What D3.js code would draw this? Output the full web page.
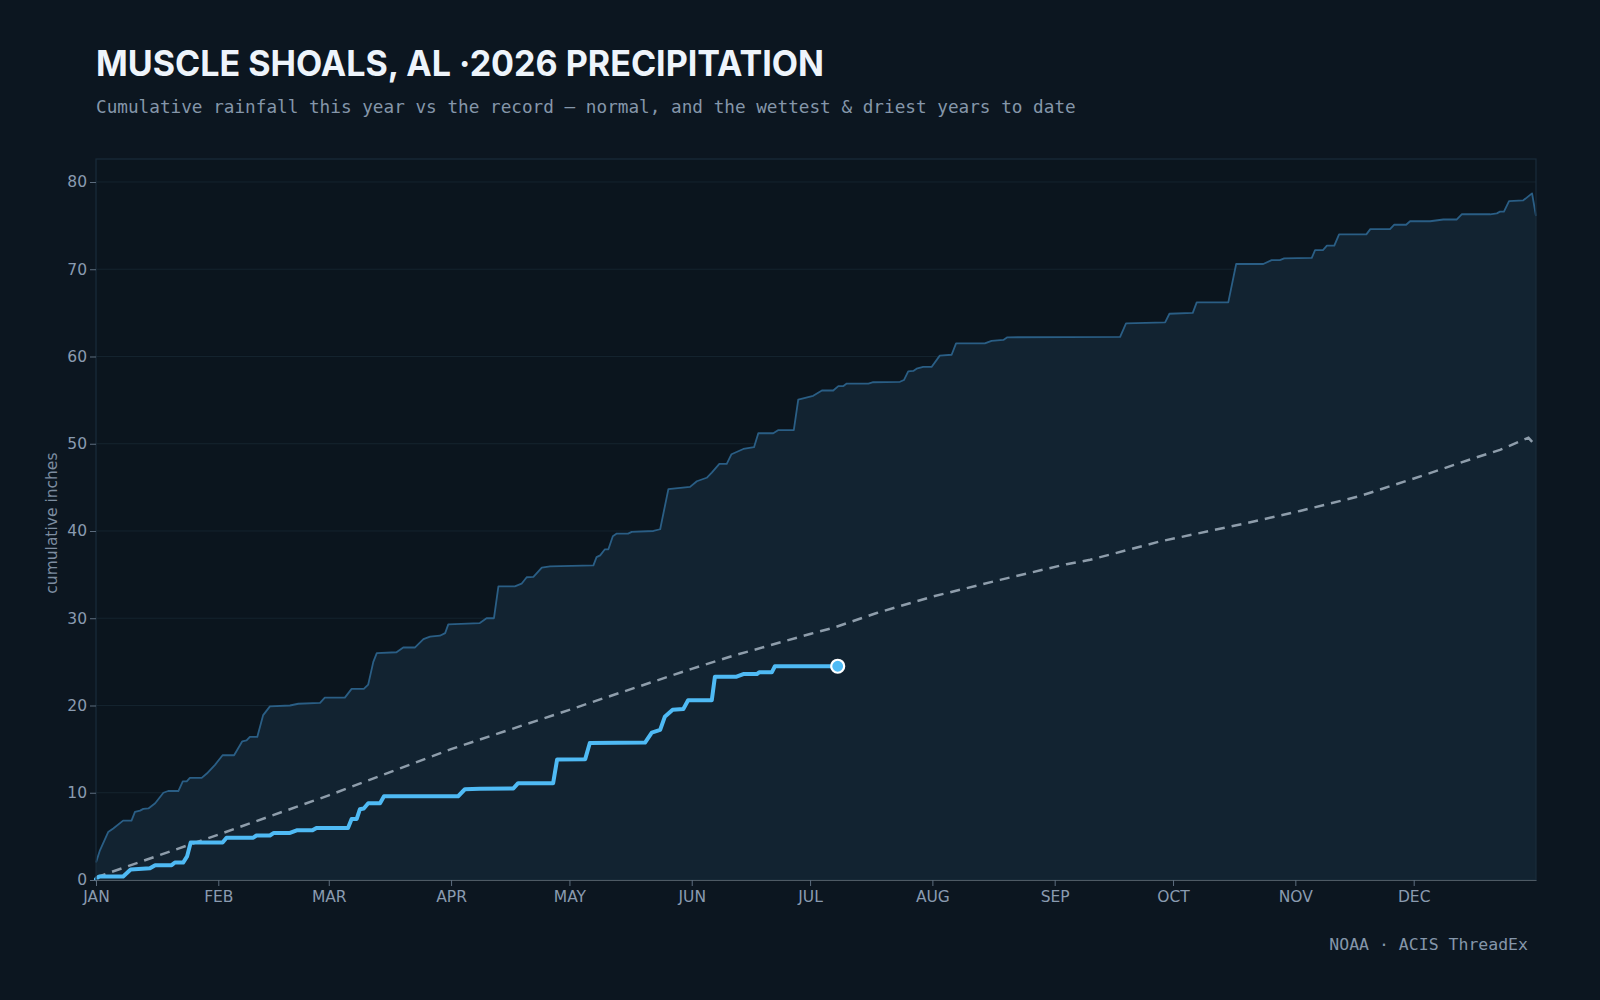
<!DOCTYPE html>
<html lang="en">
<head>
  <meta charset="utf-8" />
  <script src="https://d3js.org/d3.v7.min.js"></script>
  <style>
    body {
      margin: 0;
      background: #0c1620;
    }
  </style>
</head>
<body>
  <script>
    // day of year (0 = Jan 1) and cumulative inches
    var recordDays = [0, 1, 3.1, 4.4, 6.9, 9, 9.9, 11.2, 12, 13.3, 15, 17.1, 18.3, 20.9, 22, 23, 23.8, 26.8, 28.1, 30.2,
      32.1, 35, 37.1, 38.2, 39, 40.9, 42.4, 44.1, 49.2, 51.3, 56.8, 58, 63.1, 64.8, 67.9, 69, 70.3, 71.2, 76.2, 77.9,
      80.9, 83, 84.7, 87.2, 88.5, 89.3, 97.3, 99, 100.9, 102, 106.2, 107.9, 109.2, 110.9, 113, 115.1, 126.1, 126.9, 127.8, 129,
      129.9, 131, 132, 134.9, 135.8, 141.3, 143, 145.1, 150.6, 152.3, 154.8, 156.1, 158, 159.9, 161.1, 164.1, 166.8, 167.9, 171.7, 172.9,
      176.9, 178, 181.8, 184, 186.9, 188.2, 189.4, 190.3, 195.8, 197, 203.8, 204.8, 205.9, 207.2, 208, 209.7, 211.8, 213.9, 216.9, 218,
      225.3, 227, 230, 231, 259.6, 261.1, 271, 272.1, 278, 279, 287, 289, 295.9, 298, 300.1, 301.2, 308.2, 309, 311, 312,
      313.9, 315.1, 322, 323, 328, 329.1, 332.1, 333.1, 338.2, 341.5, 344.9, 346.2, 353.4, 355.1, 355.9, 356.9, 358.2, 361.8, 364, 365];
    var recordInches = [2.0, 3.4, 5.5, 5.9, 6.8, 6.8, 7.8, 7.95, 8.15, 8.2, 8.8, 10.0, 10.2, 10.2, 11.3, 11.3, 11.7, 11.7, 12.2, 13.2,
      14.3, 14.3, 15.9, 16.0, 16.4, 16.4, 18.9, 19.9, 20.0, 20.2, 20.3, 20.9, 20.9, 21.9, 21.9, 22.4, 25.0, 26.0, 26.1, 26.65,
      26.65, 27.6, 27.9, 28.0, 28.3, 29.3, 29.45, 30.0, 30.0, 33.65, 33.65, 33.96, 34.7, 34.75, 35.8, 35.95, 36.06, 37.0, 37.2, 37.9,
      37.9, 39.4, 39.7, 39.7, 39.9, 40.0, 40.2, 44.8, 45.05, 45.7, 46.1, 46.7, 47.7, 47.7, 48.8, 49.4, 49.6, 51.2, 51.2, 51.55,
      51.55, 55.07, 55.5, 56.1, 56.1, 56.6, 56.6, 56.9, 56.9, 57.05, 57.1, 57.3, 58.3, 58.35, 58.6, 58.8, 58.8, 60.1, 60.2, 61.5,
      61.5, 61.8, 61.9, 62.2, 62.25, 63.8, 63.9, 64.9, 65.0, 66.2, 66.2, 70.6, 70.6, 71.05, 71.05, 71.25, 71.3, 72.2, 72.2, 72.7,
      72.7, 74.0, 74.0, 74.6, 74.6, 75.1, 75.1, 75.5, 75.5, 75.7, 75.7, 76.3, 76.3, 76.4, 76.6, 76.6, 77.8, 77.9, 78.7, 76.1];

    var normalDays = [0, 31, 59, 90, 120, 127.8, 151, 161.5, 181, 186.9, 197.9, 212.2, 229.2, 246, 252, 269.7, 291.7, 305.2,
      320.4, 337.3, 348.3, 355.9, 363.1, 365];
    var normalInches = [0.3, 5.2, 9.7, 15.0, 19.5, 20.7, 24.2, 25.7, 28.2, 28.9, 30.6, 32.5, 34.4, 36.2, 36.7, 38.8, 40.9, 42.3,
      44.0, 46.5, 48.2, 49.3, 50.7, 49.7];

    var currentDays = [0, 0.8, 6.9, 8.8, 13.7, 15, 19.2, 20, 22.1, 23.1, 24, 32.1, 33.1, 39.9, 40.7, 44.1, 45.1, 49.2, 50.9, 54.9,
      55.9, 63.9, 64.8, 66.1, 66.9, 67.9, 69, 72, 73, 91.8, 93.5, 97.3, 105.8, 107, 115.9, 116.9, 124, 125.2, 139.2, 140.9,
      143, 144.2, 146.2, 148.9, 150.1, 156.1, 156.9, 162.4, 164.1, 167.5, 168.1, 171.3, 172.1, 188];
    var currentInches = [0.1, 0.4, 0.4, 1.2, 1.34, 1.7, 1.7, 2.0, 2.0, 2.7, 4.3, 4.3, 4.85, 4.85, 5.1, 5.1, 5.4, 5.4, 5.7, 5.7,
      5.97, 5.97, 7.0, 7.0, 8.1, 8.2, 8.8, 8.8, 9.6, 9.6, 10.4, 10.45, 10.5, 11.1, 11.1, 13.8, 13.85, 15.7, 15.75, 16.9,
      17.2, 18.7, 19.5, 19.6, 20.6, 20.6, 23.3, 23.3, 23.6, 23.6, 23.8, 23.8, 24.5, 24.5];

    var yTicks = [0, 10, 20, 30, 40, 50, 60, 70, 80];

    var width = 1600,
      height = 1000;
    var margin = { top: 159, right: 64, bottom: 120, left: 96 };
    var innerW = width - margin.left - margin.right,
      innerH = height - margin.top - margin.bottom;

    var yearStart = new Date(2026, 0, 1);
    var yearEnd = new Date(2027, 0, 1);
    function toDate(d) { return d3.timeHour.offset(yearStart, d * 24); }

    var svg = d3.select("body")
      .append("svg")
      .attr("width", width)
      .attr("height", height);

    svg.append("rect")
      .attr("width", width)
      .attr("height", height)
      .attr("fill", "#0c1620");

    var x = d3.scaleTime()
      .domain([yearStart, yearEnd])
      .range([0, innerW]);

    var y = d3.scaleLinear()
      .domain([0, d3.max(recordInches) * 1.05])
      .range([innerH, 0]);

    var g = svg.append("g")
      .attr("transform", "translate(" + margin.left + "," + margin.top + ")");

    g.append("rect")
      .attr("width", innerW)
      .attr("height", innerH)
      .attr("fill", "#0b151e");

    // grid
    g.append("g")
      .selectAll("line")
      .data(yTicks.slice(1))
      .enter().append("line")
      .attr("x1", 0)
      .attr("x2", innerW)
      .attr("y1", function (d) { return y(d); })
      .attr("y2", function (d) { return y(d); })
      .attr("stroke", "#15242f")
      .attr("stroke-width", 1);

    var record = recordDays.map(function (d, i) { return { date: toDate(d), v: recordInches[i] }; });
    var normal = normalDays.map(function (d, i) { return { date: toDate(d), v: normalInches[i] }; });
    var current = currentDays.map(function (d, i) { return { date: toDate(d), v: currentInches[i] }; });

    g.append("path")
      .datum(record)
      .attr("fill", "#122331")
      .attr("d", d3.area()
        .x(function (d) { return x(d.date); })
        .y0(innerH)
        .y1(function (d) { return y(d.v); }));

    var line = d3.line()
      .x(function (d) { return x(d.date); })
      .y(function (d) { return y(d.v); });

    g.append("path")
      .datum(record)
      .attr("fill", "none")
      .attr("stroke", "#2a5e85")
      .attr("stroke-width", 1.8)
      .attr("stroke-linejoin", "round")
      .attr("d", line);

    g.append("path")
      .datum(normal)
      .attr("fill", "none")
      .attr("stroke", "#8e9dab")
      .attr("stroke-width", 2.5)
      .attr("stroke-dasharray", "10,7")
      .attr("d", line);

    g.append("path")
      .datum(current)
      .attr("fill", "none")
      .attr("stroke", "#4fbaf4")
      .attr("stroke-width", 4)
      .attr("stroke-linejoin", "round")
      .attr("stroke-linecap", "round")
      .attr("d", line);

    var last = current[current.length - 1];
    g.append("circle")
      .attr("cx", x(last.date))
      .attr("cy", y(last.v))
      .attr("r", 6.5)
      .attr("fill", "#4fbaf4")
      .attr("stroke", "#ffffff")
      .attr("stroke-width", 2.2);

    // frame
    g.append("rect")
      .attr("width", innerW)
      .attr("height", innerH)
      .attr("fill", "none")
      .attr("stroke", "#1a2c3b")
      .attr("stroke-width", 1.2);

    // axes
    var yAxis = g.append("g")
      .call(d3.axisLeft(y).tickValues(yTicks).tickSizeOuter(0));
    yAxis.select(".domain").remove();
    yAxis.selectAll(".tick line").attr("stroke", "#5d6d7e");
    yAxis.selectAll("text")
      .attr("fill", "#8a9bb0")
      .style("font-family", "'DejaVu Sans', sans-serif")
      .style("font-size", "15.5px");

    var xAxis = g.append("g")
      .attr("transform", "translate(0," + innerH + ")")
      .call(d3.axisBottom(x)
        .tickValues(d3.timeMonths(yearStart, yearEnd))
        .tickFormat(function (d) { return d3.timeFormat("%b")(d).toUpperCase(); })
        .tickPadding(5)
        .tickSizeOuter(0));
    xAxis.select(".domain").attr("stroke", "#4e5a64");
    xAxis.selectAll(".tick line").attr("stroke", "#5d6d7e");
    xAxis.selectAll("text")
      .attr("fill", "#8a9bb0")
      .style("font-family", "'DejaVu Sans', sans-serif")
      .style("font-size", "15.5px");

    svg.append("text")
      .attr("transform", "translate(57," + (margin.top + innerH * 0.505) + ") rotate(-90)")
      .attr("text-anchor", "middle")
      .attr("fill", "#7d8da0")
      .style("font-family", "'DejaVu Sans', sans-serif")
      .style("font-size", "15.5px")
      .text("cumulative inches");

    // titles
    svg.append("text")
      .attr("x", 96)
      .attr("y", 76)
      .attr("fill", "#eef4fb")
      .attr("textLength", 728)
      .attr("lengthAdjust", "spacingAndGlyphs")
      .style("font-family", "Inter, 'Noto Sans', sans-serif")
      .style("font-weight", "700")
      .style("font-size", "35px")
      .text("MUSCLE SHOALS, AL ·2026 PRECIPITATION");

    svg.append("text")
      .attr("x", 96)
      .attr("y", 112.5)
      .attr("fill", "#8596aa")
      .style("font-family", "'DejaVu Sans Mono', monospace")
      .style("font-size", "17.7px")
      .text("Cumulative rainfall this year vs the record — normal, and the wettest & driest years to date");

    svg.append("text")
      .attr("x", 1528)
      .attr("y", 950)
      .attr("text-anchor", "end")
      .attr("fill", "#8596aa")
      .style("font-family", "'DejaVu Sans Mono', monospace")
      .style("font-size", "16.5px")
      .text("NOAA · ACIS ThreadEx");
  </script>
</body>
</html>
